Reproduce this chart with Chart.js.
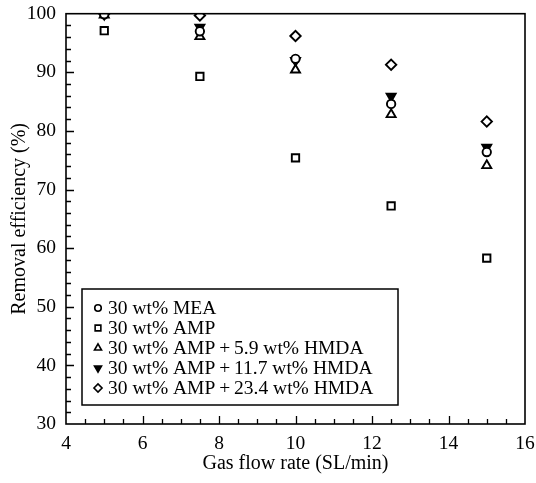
<!DOCTYPE html>
<html>
<head>
<meta charset="utf-8">
<script src="https://cdn.jsdelivr.net/npm/chart.js@4.4.1/dist/chart.umd.min.js"></script>
<style>
  html, body { margin: 0; padding: 0; background: #fff; }
  #wrap { width: 536px; height: 483px; }
</style>
</head>
<body>
<div id="wrap"><canvas id="c" width="536" height="483"></canvas></div>
<script>
// Gas flow rate (SL/min)
const flowRates = [5, 7.5, 10, 12.5, 15];

// Removal efficiency (%) for each absorbent
const mea30      = [99.9, 97.0, 92.3, 84.6, 76.4];
const amp30      = [97.1, 89.3, 75.4, 67.2, 58.3];
const ampHmda59  = [99.8, 96.1, 90.4, 82.8, 74.1];
const ampHmda117 = [99.9, 97.7, 92.0, 85.9, 77.2];
const ampHmda234 = [100.0, 99.7, 96.2, 91.3, 81.6];

const seriesLabels = [
  '30 wt% MEA',
  '30 wt% AMP',
  '30 wt% AMP\u2009+\u20095.9 wt% HMDA',
  '30 wt% AMP\u2009+\u200911.7 wt% HMDA',
  '30 wt% AMP\u2009+\u200923.4 wt% HMDA'
];

const xTicks = [4, 6, 8, 10, 12, 14, 16];
const yTicks = [30, 40, 50, 60, 70, 80, 90, 100];

const INK = '#000';
const SERIF = '"Liberation Serif", "Times New Roman", serif';

const markerStyles = [
  { pointStyle: 'circle',   radius: 4.2, rotation: 0,   fill: '#fff' },
  { pointStyle: 'rect',     radius: 5.2, rotation: 0,   fill: '#fff' },
  { pointStyle: 'triangle', radius: 5.2, rotation: 0,   fill: '#fff' },
  { pointStyle: 'triangle', radius: 5.2, rotation: 180, fill: INK },
  { pointStyle: 'rectRot',  radius: 5.2, rotation: 0,   fill: '#fff' }
];

const seriesValues = [mea30, amp30, ampHmda59, ampHmda117, ampHmda234];

const datasets = seriesValues.map((vals, i) => ({
  label: seriesLabels[i],
  data: flowRates.map((x, j) => ({ x: x, y: vals[j] })),
  showLine: false,
  pointStyle: markerStyles[i].pointStyle,
  pointRadius: markerStyles[i].radius,
  pointRotation: markerStyles[i].rotation,
  pointBackgroundColor: markerStyles[i].fill,
  pointBorderColor: INK,
  pointBorderWidth: 1.9,
  pointHoverRadius: markerStyles[i].radius
}));

// Frame, inward major/minor ticks, and the boxed legend
const framePlugin = {
  id: 'frame',
  afterDraw(chart) {
    const { ctx, chartArea: a, scales } = chart;
    const xs = scales.x, ys = scales.y;
    ctx.save();
    ctx.strokeStyle = INK;
    ctx.lineWidth = 1.6;
    ctx.strokeRect(a.left, a.top, a.right - a.left, a.bottom - a.top);

    ctx.lineWidth = 1.3;
    ctx.beginPath();
    for (let v = xs.min; v <= xs.max + 1e-9; v += 0.5) {
      if (v === xs.min || v === xs.max) continue;
      const px = Math.round(xs.getPixelForValue(v)) + 0.5;
      const len = (Math.abs(v % 2) < 1e-9) ? 8 : 5;
      ctx.moveTo(px, a.bottom);
      ctx.lineTo(px, a.bottom - len);
    }
    for (let v = ys.min; v <= ys.max + 1e-9; v += 2) {
      if (v === ys.min || v === ys.max) continue;
      const py = Math.round(ys.getPixelForValue(v)) + 0.5;
      const len = (Math.abs(v % 10) < 1e-9) ? 8 : 5;
      ctx.moveTo(a.left, py);
      ctx.lineTo(a.left + len, py);
    }
    ctx.stroke();

    // legend box
    const boxL = a.left + 16, boxR = a.left + 332;
    const boxB = a.bottom - 19, boxT = boxB - 116;
    ctx.fillStyle = '#fff';
    ctx.fillRect(boxL, boxT, boxR - boxL, boxB - boxT);
    ctx.lineWidth = 1.5;
    ctx.strokeRect(boxL, boxT, boxR - boxL, boxB - boxT);
    ctx.font = '19.5px ' + SERIF;
    ctx.textBaseline = 'middle';
    ctx.textAlign = 'left';
    chart.data.datasets.forEach((ds, i) => {
      const cy = boxT + 19 + i * 20;
      const m = markerStyles[i];
      ctx.fillStyle = m.fill;
      ctx.strokeStyle = INK;
      ctx.lineWidth = 1.6;
      Chart.helpers.drawPoint(ctx, {
        pointStyle: m.pointStyle,
        rotation: m.rotation,
        radius: m.radius * 0.78,
        borderWidth: 1.6
      }, boxL + 16, cy);
      ctx.fillStyle = INK;
      ctx.fillText(ds.label, boxL + 26, cy + 1);
    });
    ctx.restore();
  }
};

new Chart(document.getElementById('c'), {
  type: 'scatter',
  data: { datasets: datasets },
  options: {
    responsive: false,
    animation: false,
    devicePixelRatio: 1,
    layout: { padding: { top: 13, right: 11, left: 0, bottom: 0 } },
    plugins: {
      legend: { display: false },
      tooltip: { enabled: false }
    },
    scales: {
      x: {
        type: 'linear',
        min: 4, max: 16,
        afterBuildTicks(scale) { scale.ticks = xTicks.map(v => ({ value: v })); },
        afterFit(scale) { scale.height = 59; },
        grid: { display: false },
        border: { display: false },
        ticks: {
          color: INK,
          font: { family: SERIF, size: 19.5 },
          padding: 0,
          maxRotation: 0
        },
        title: {
          display: true,
          text: 'Gas flow rate (SL/min)',
          color: INK,
          font: { family: SERIF, size: 20 },
          padding: { top: 4, bottom: 7 }
        }
      },
      y: {
        type: 'linear',
        min: 30, max: 100,
        afterBuildTicks(scale) { scale.ticks = yTicks.map(v => ({ value: v })); },
        afterFit(scale) { scale.width = 66; },
        grid: { display: false },
        border: { display: false },
        ticks: {
          color: INK,
          font: { family: SERIF, size: 19.5 },
          padding: 2
        },
        title: {
          display: true,
          text: 'Removal efficiency (%)',
          color: INK,
          font: { family: SERIF, size: 20 },
          padding: { top: 8, bottom: 4 }
        }
      }
    }
  },
  plugins: [framePlugin]
});
</script>
</body>
</html>
